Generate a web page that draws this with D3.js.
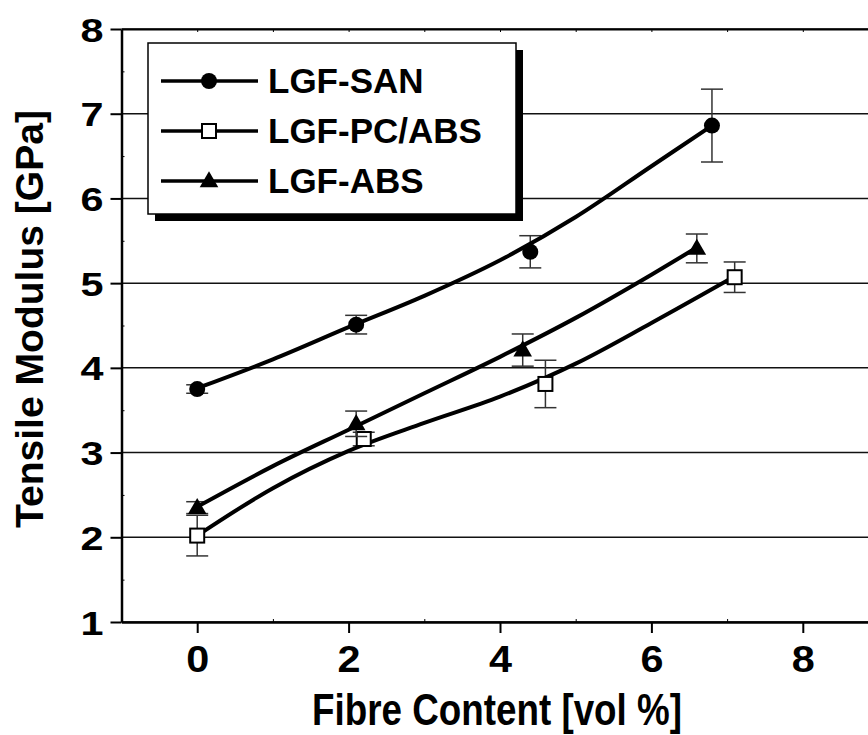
<html>
    <head>
        <title>Tensile Modulus</title>
        <script type="text/javascript" src="https://cdn.jsdelivr.net/npm/d3@7"></script>
        <style>
            body{
                margin:0;
                background:white;
            }
            text{
                font-family: "Liberation Sans", Arial, sans-serif;
                font-weight: bold;
                fill: black;
            }
            .grid{
                stroke: #111;
                stroke-width: 1.5px;
            }
            .fit{
                stroke: black;
                stroke-width: 4px;
                fill: none;
            }
            .err{
                stroke: #333;
                stroke-width: 1.5px;
            }
        </style>
    </head>
    <body>
        <script type="text/javascript">
            // Data
            let xTicks = [0, 2, 4, 6, 8]
            let yTicks = [1, 2, 3, 4, 5, 6, 7, 8]

            let sanX = [0, 2.1, 4.4, 6.8]
            let sanY = [3.75, 4.51, 5.37, 6.86]
            let sanErr = [0.05, 0.11, 0.19, 0.43]
            let sanFitX = [0, 1, 2, 3, 4, 5, 6, 6.8]
            let sanFitY = [3.76, 4.10, 4.48, 4.85, 5.27, 5.78, 6.38, 6.86]

            let pcX = [0, 2.2, 4.6, 7.1]
            let pcY = [2.02, 3.16, 3.81, 5.07]
            let pcErr = [0.24, 0.08, 0.28, 0.18]
            let pcFitX = [0, 1, 2, 3, 4, 5, 6, 7.1]
            let pcFitY = [2.02, 2.58, 3.02, 3.35, 3.66, 4.05, 4.53, 5.08]

            let absX = [0, 2.1, 4.3, 6.6]
            let absY = [2.35, 3.34, 4.21, 5.41]
            let absErr = [0.07, 0.15, 0.19, 0.17]
            let absFitX = [0, 1, 2, 3, 4, 5, 6, 6.6]
            let absFitY = [2.36, 2.84, 3.27, 3.70, 4.13, 4.59, 5.10, 5.42]

            let seriesNames = ["LGF-SAN", "LGF-PC/ABS", "LGF-ABS"]
            let xTitle = "Fibre Content [vol %]"
            let yTitle = "Tensile Modulus [GPa]"

            let zip = (xs, ys, es) => xs.map((x, i) => ({x: x, y: ys[i], e: es ? es[i] : 0}))
            let series = [
                {name: seriesNames[0], shape: "circle", pts: zip(sanX, sanY, sanErr), fit: zip(sanFitX, sanFitY)},
                {name: seriesNames[1], shape: "square", pts: zip(pcX, pcY, pcErr), fit: zip(pcFitX, pcFitY)},
                {name: seriesNames[2], shape: "triangle", pts: zip(absX, absY, absErr), fit: zip(absFitX, absFitY)}
            ]

            let w = 868
            let h = 735
            let plotLeft = 121.5
            let plotTop = 29
            let plotBottom = 622
            let svg = d3.select("body")
                        .append("svg")
                        .attr("width", w)
                        .attr("height", h)

            let xScale = d3.scaleLinear()
                            .domain([-1, 9])
                            .range([plotLeft, plotLeft + 757])
            let yScale = d3.scaleLinear()
                            .domain([1, 8])
                            .range([plotBottom, plotTop])

            // gridlines
            svg.append("g")
                .selectAll("line")
                .data(yTicks)
                .enter()
                .append("line")
                .attr("class", "grid")
                .attr("x1", plotLeft)
                .attr("x2", w)
                .attr("y1", d => yScale(d))
                .attr("y2", d => yScale(d))

            // axes
            let xAxis = d3.axisBottom(xScale)
                            .tickValues(xTicks)
                            .tickFormat(d3.format("d"))
                            .tickSize(11)
                            .tickSizeOuter(0)
            let gx = svg.append("g")
                .attr("transform", "translate(0," + plotBottom + ")")
                .call(xAxis)
            gx.select(".domain").attr("stroke-width", 2.5)
            gx.selectAll(".tick line").attr("stroke-width", 2)
            gx.selectAll(".tick text")
                .attr("font-size", 37)
                .attr("dy", 0)
                .attr("y", 50)
                .attr("textLength", 23)
                .attr("lengthAdjust", "spacingAndGlyphs")

            let xMinor = d3.axisBottom(xScale)
                            .tickValues([1, 3, 5, 7])
                            .tickSize(-3)
                            .tickFormat("")
                            .tickSizeOuter(0)
            let gxm = svg.append("g")
                .attr("transform", "translate(0," + plotBottom + ")")
                .call(xMinor)
            gxm.select(".domain").remove()

            let topAxis = d3.axisTop(xScale)
                            .tickValues(d3.range(0, 9))
                            .tickSize(-3)
                            .tickFormat("")
                            .tickSizeOuter(0)
            let gt = svg.append("g")
                .attr("transform", "translate(0," + plotTop + ")")
                .call(topAxis)
            gt.select(".domain").attr("stroke-width", 2)

            let yAxis = d3.axisLeft(yScale)
                            .tickValues(yTicks)
                            .tickFormat(d3.format("d"))
                            .tickSize(11)
                            .tickPadding(7)
                            .tickSizeOuter(0)
            let gy = svg.append("g")
                .attr("transform", "translate(" + plotLeft + ",0)")
                .call(yAxis)
            gy.select(".domain").attr("stroke-width", 2.5)
            gy.selectAll(".tick line").attr("stroke-width", 2)
            gy.selectAll(".tick text")
                .attr("font-size", 33)
                .attr("dy", 12)
                .attr("textLength", 23)
                .attr("lengthAdjust", "spacingAndGlyphs")

            let yMinor = d3.axisLeft(yScale)
                            .tickValues(d3.range(1.5, 8, 1))
                            .tickSize(-3)
                            .tickFormat("")
                            .tickSizeOuter(0)
            let gym = svg.append("g")
                .attr("transform", "translate(" + plotLeft + ",0)")
                .call(yMinor)
            gym.select(".domain").remove()

            // axis titles
            svg.append("text")
                .attr("x", 497)
                .attr("y", 725)
                .attr("text-anchor", "middle")
                .attr("font-size", 44)
                .attr("textLength", 370)
                .attr("lengthAdjust", "spacingAndGlyphs")
                .text(xTitle)
            svg.append("text")
                .attr("transform", "translate(43,319) rotate(-90)")
                .attr("text-anchor", "middle")
                .attr("font-size", 39)
                .attr("textLength", 418)
                .attr("lengthAdjust", "spacingAndGlyphs")
                .text(yTitle)

            // markers
            function drawMarker(g, shape, cx, cy){
                if (shape == "circle"){
                    g.append("circle")
                        .attr("cx", cx).attr("cy", cy).attr("r", 8)
                        .attr("fill", "black")
                } else if (shape == "square"){
                    g.append("rect")
                        .attr("x", cx - 7).attr("y", cy - 7)
                        .attr("width", 14).attr("height", 14)
                        .attr("fill", "white").attr("stroke", "black").attr("stroke-width", 2)
                } else {
                    let s = d3.symbol().type(d3.symbolTriangle).size(150)
                    g.append("path")
                        .attr("d", s())
                        .attr("transform", "translate(" + cx + "," + (cy + 1) + ")")
                        .attr("fill", "black")
                }
            }

            let line = d3.line()
                            .x(d => xScale(d.x))
                            .y(d => yScale(d.y))
                            .curve(d3.curveMonotoneX)

            series.forEach(s => {
                let g = svg.append("g")
                g.selectAll("g.eb")
                    .data(s.pts)
                    .enter()
                    .append("g")
                    .each(function(d){
                        let eg = d3.select(this)
                        let cx = xScale(d.x)
                        eg.append("line").attr("class", "err")
                            .attr("x1", cx).attr("x2", cx)
                            .attr("y1", yScale(d.y - d.e)).attr("y2", yScale(d.y + d.e))
                        ;[d.y - d.e, d.y + d.e].forEach(v => {
                            eg.append("line").attr("class", "err")
                                .attr("x1", cx - 11).attr("x2", cx + 11)
                                .attr("y1", yScale(v)).attr("y2", yScale(v))
                        })
                    })
                g.append("path")
                    .datum(s.fit)
                    .attr("class", "fit")
                    .attr("d", line)
                s.pts.forEach(d => drawMarker(g, s.shape, xScale(d.x), yScale(d.y)))
            })

            // legend
            let lx = 148
            let ly = 43
            let lw = 368
            let lh = 171
            let lg = svg.append("g")
            lg.append("rect")
                .attr("x", lx + 7).attr("y", ly + 7)
                .attr("width", lw).attr("height", lh)
                .attr("fill", "black")
            lg.append("rect")
                .attr("x", lx).attr("y", ly)
                .attr("width", lw).attr("height", lh)
                .attr("fill", "white").attr("stroke", "black").attr("stroke-width", 1.5)
            let rowY = d3.scalePoint().domain(seriesNames).range([ly + 38, ly + 138])
            series.forEach(s => {
                let y = rowY(s.name)
                lg.append("line")
                    .attr("x1", lx + 13).attr("x2", lx + 110)
                    .attr("y1", y).attr("y2", y)
                    .attr("stroke", "black").attr("stroke-width", 3.5)
                drawMarker(lg, s.shape, lx + 61, y)
                lg.append("text")
                    .attr("x", lx + 120)
                    .attr("y", y + 12)
                    .attr("font-size", 35)
                    .text(s.name)
            })
        </script>
    </body>
</html>
